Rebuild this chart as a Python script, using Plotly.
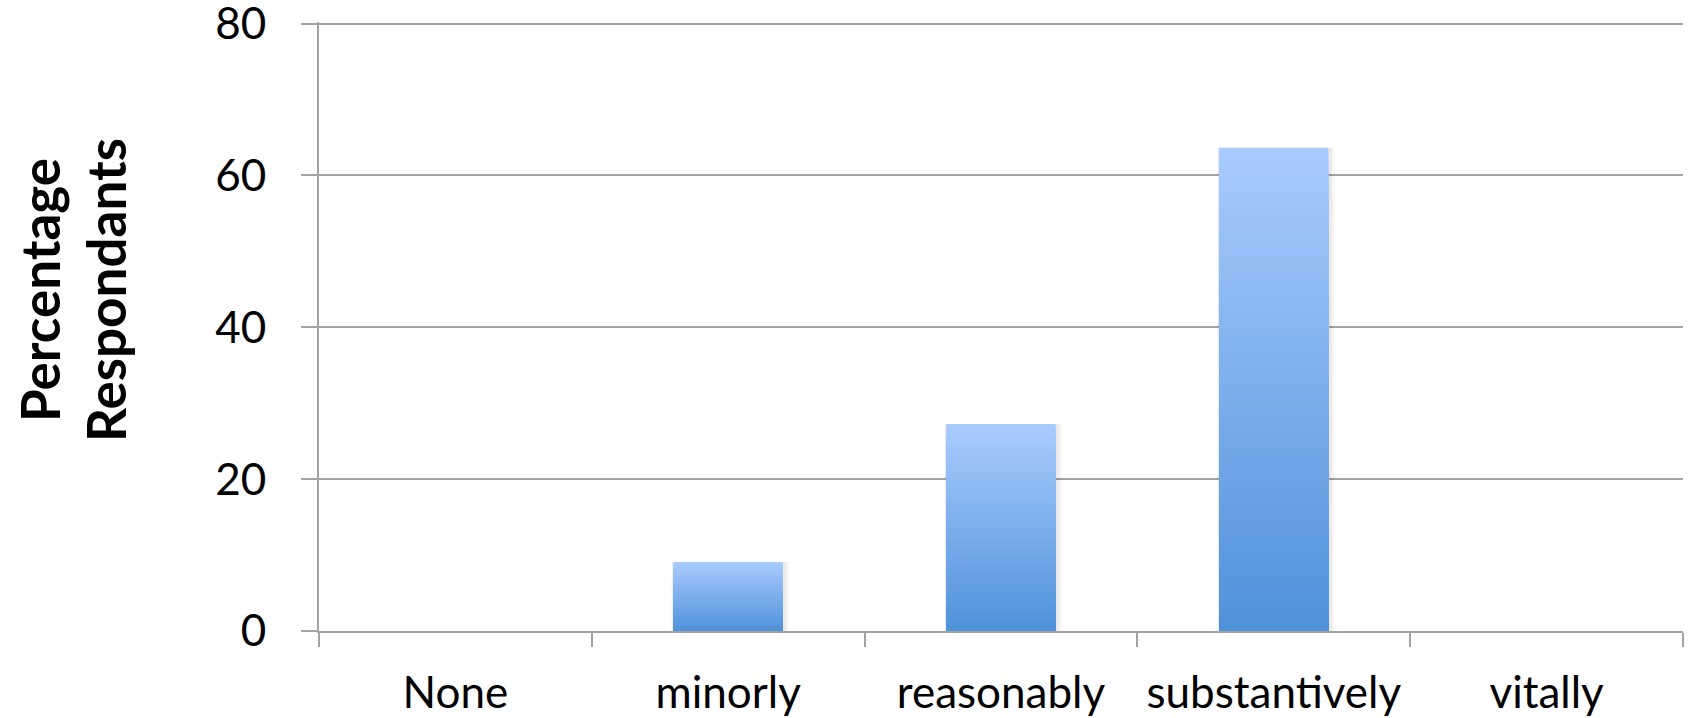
import plotly.graph_objects as go

# Survey responses (n = 11)
categories = ["None", "minorly", "reasonably", "substantively", "vitally"]
percentages = [0, 9.09, 27.27, 63.64, 0]
y_ticks = [0, 20, 40, 60, 80]
title_lines = ["Percentage", "Respondants"]

TOP_RGB = (168, 203, 254)
BOTTOM_RGB = (80, 146, 217)
N_STEPS = 80
BAR_WIDTH = 0.4
GRID = "#A3A3A3"
FONT = "Lato"

fig = go.Figure()

# soft drop shadow behind each bar
for grow, alpha in [(0.03, 0.03), (0.018, 0.05)]:
    fig.add_trace(go.Bar(
        x=categories, y=percentages, width=BAR_WIDTH + grow,
        offset=-BAR_WIDTH / 2 - grow / 4,
        marker=dict(color="rgba(0,0,0,%.2f)" % alpha, line=dict(width=0)),
        hoverinfo="skip", showlegend=False,
    ))

# vertical gradient: overlaid bars from full height down to the base,
# each shorter one painted over the taller one
for k in range(N_STEPS, 0, -1):
    t = (k - 1) / (N_STEPS - 1)
    rgb = tuple(round(b + (a - b) * t) for a, b in zip(TOP_RGB, BOTTOM_RGB))
    fig.add_trace(go.Bar(
        x=categories,
        y=[v * k / N_STEPS for v in percentages],
        width=BAR_WIDTH,
        marker=dict(color="rgb(%d,%d,%d)" % rgb, line=dict(width=0)),
        hoverinfo="skip", showlegend=False,
    ))

# two-line rotated axis title, one annotation per line
title_x = [-0.2045, -0.1562]
annotations = [
    dict(text="<b>%s</b>" % line, textangle=-90, xref="paper", yref="paper",
         x=x, y=0.56, xanchor="center", yanchor="middle", showarrow=False,
         font=dict(family=FONT, size=53, color="black"))
    for line, x in zip(title_lines, title_x)
]

fig.update_layout(
    width=1694, height=718,
    margin=dict(l=319, r=11, t=22, b=87, autoexpand=False),
    paper_bgcolor="white", plot_bgcolor="white",
    barmode="overlay",
    font=dict(family=FONT, size=44, color="black"),
    xaxis=dict(
        type="category", showgrid=False, showline=True, linecolor=GRID, linewidth=2,
        ticks="outside", tickson="boundaries", ticklen=14, tickwidth=2, tickcolor=GRID,
        ticklabelstandoff=22, range=[-0.5, 4.5], automargin=False,
    ),
    yaxis=dict(
        range=[0, 80.2], tickvals=y_ticks, showgrid=True, gridcolor=GRID, gridwidth=2,
        zeroline=False, showline=True, linecolor=GRID, linewidth=2,
        ticks="outside", ticklen=16, tickwidth=2, tickcolor=GRID,
        ticklabelstandoff=26, ticklabeloverflow="allow", automargin=False,
    ),
    annotations=annotations,
)

fig.write_html("out.html")
